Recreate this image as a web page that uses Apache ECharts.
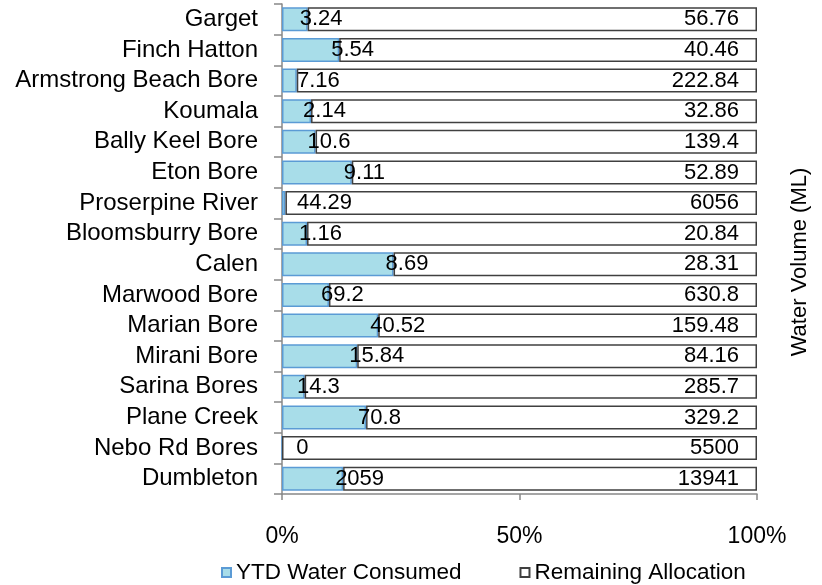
<!DOCTYPE html>
<html>
<head>
<meta charset="utf-8">
<script src="https://cdn.jsdelivr.net/npm/echarts@6/dist/echarts.min.js"></script>
<style>html,body{margin:0;padding:0;background:#fff}#c{width:822px;height:585px}</style>
</head>
<body>
<div id="c"></div>
<script>
const categories = ['Garget','Finch Hatton','Armstrong Beach Bore','Koumala','Bally Keel Bore','Eton Bore','Proserpine River','Bloomsburry Bore','Calen','Marwood Bore','Marian Bore','Mirani Bore','Sarina Bores','Plane Creek','Nebo Rd Bores','Dumbleton'];
const ytdConsumed = [3.24,5.54,7.16,2.14,10.6,9.11,44.29,1.16,8.69,69.2,40.52,15.84,14.3,70.8,0,2059];
const remainingAllocation = [56.76,40.46,222.84,32.86,139.4,52.89,6056,20.84,28.31,630.8,159.48,84.16,285.7,329.2,5500,13941];
const xTickValues = [0,50,100];
const seriesNames = ['YTD Water Consumed','Remaining Allocation'];
const axisTitle = 'Water Volume (ML)';

const FONT = '"Liberation Sans", Arial, sans-serif';
const totals = ytdConsumed.map((v,i)=>v+remainingAllocation[i]);
const ytdPct = ytdConsumed.map((v,i)=>v/totals[i]*100);
const remPct = remainingAllocation.map((v,i)=>v/totals[i]*100);

const chart = echarts.init(document.getElementById('c'), null, {renderer:'canvas'});
const option = {
  animation:false,
  backgroundColor:'#fff',
  textStyle:{fontFamily:FONT},
  grid:{left:282, right:65, top:4, bottom:91, containLabel:false},
  xAxis:{
    type:'value', min:xTickValues[0], max:xTickValues[xTickValues.length-1], interval:xTickValues[1]-xTickValues[0],
    axisLine:{show:true, lineStyle:{color:'#888', width:1.5}},
    axisTick:{show:true, length:6, lineStyle:{color:'#888', width:1.5}},
    splitLine:{show:false},
    axisLabel:{formatter:'{value}%', fontSize:23, color:'#000', margin:31, fontFamily:FONT}
  },
  yAxis:{
    type:'category', data:categories, inverse:true,
    axisLine:{show:true, lineStyle:{color:'#888', width:1.5}},
    axisTick:{show:true, length:8, lineStyle:{color:'#888', width:1.5}},
    axisLabel:{interval:0, fontSize:24, color:'#000', margin:24, fontFamily:FONT}
  },
  legend:{
    left:216, top:556, itemGap:58, itemWidth:9, itemHeight:9, icon:'rect',
    textStyle:{fontSize:22.5, color:'#000', fontFamily:FONT},
    data:seriesNames
  },
  graphic:[{
    type:'text', x:800, y:262, rotation:Math.PI/2,
    style:{text:axisTitle, fontSize:22, fill:'#000', fontFamily:FONT, align:'center', verticalAlign:'middle'}
  }],
  series:[
    {
      id:'ytd', name:seriesNames[0], type:'bar', stack:'t', barCategoryGap:'22%',
      data:ytdPct,
      itemStyle:{color:'#a8dde9', borderColor:'#5b9bd5', borderWidth:1.5},
      label:{show:true, position:'insideLeft', align:'left', verticalAlign:'middle', fontSize:22, color:'#000', fontFamily:FONT,
        formatter:p=>String(ytdConsumed[p.dataIndex])}
    },
    {
      id:'rem', name:seriesNames[1], type:'bar', stack:'t', barCategoryGap:'22%',
      data:remPct,
      itemStyle:{color:'#fff', borderColor:'#404040', borderWidth:1.5},
      label:{show:true, position:'insideRight', distance:18, fontSize:22, color:'#000', fontFamily:FONT,
        formatter:p=>String(remainingAllocation[p.dataIndex])}
    }
  ]
};
chart.setOption(option);
const x0 = chart.convertToPixel({xAxisIndex:0}, 0);
const ytdData = ytdPct.map((p)=>{
  const w = chart.convertToPixel({xAxisIndex:0}, p) - x0;
  return {value:p, label:{position:[Math.max(w-8, 15), '50%']}};
});
chart.setOption({series:[{id:'ytd', data:ytdData}]});
</script>
</body>
</html>
